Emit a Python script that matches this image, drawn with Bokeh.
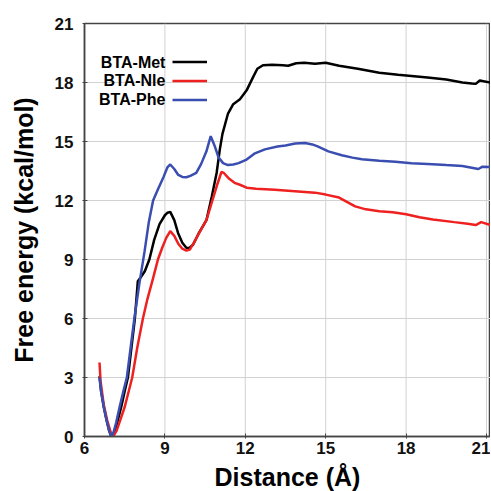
from bokeh.plotting import figure
from bokeh.models import FixedTicker, Label, Legend, LegendItem
from bokeh.core.properties import value
from bokeh.embed import file_html
from bokeh.resources import INLINE

# ---------------- data ----------------
met_x = [6.56, 6.62, 6.72, 6.82, 6.92, 7.0, 7.1, 7.2, 7.37, 7.5, 7.62, 7.75, 7.88, 7.99, 8.1,
         8.25, 8.42, 8.6, 8.8, 9.0, 9.1, 9.2, 9.35, 9.49, 9.65, 9.8, 9.9, 10.05, 10.25, 10.55,
         10.75, 10.93, 11.05, 11.15, 11.35, 11.55, 11.8, 12.05, 12.3, 12.45, 12.66, 13.0, 13.4,
         13.6, 13.9, 14.2, 14.6, 15.0, 15.5, 16.2, 17.0, 17.7, 18.3, 18.8, 19.5, 20.1, 20.45,
         20.6, 20.75, 21.15]
met_y = [3.07, 2.3, 1.5, 0.85, 0.3, 0.0, 0.2, 0.6, 1.5, 2.3, 3.0, 4.5, 6.0, 7.9, 8.1,
         8.4, 9.0, 10.0, 10.8, 11.25, 11.38, 11.42, 11.0, 10.35, 9.85, 9.6, 9.58, 9.75, 10.3, 11.0,
         12.2, 13.4, 14.6, 15.4, 16.4, 16.9, 17.15, 17.6, 18.3, 18.7, 18.88, 18.9, 18.88,
         18.85, 18.98, 19.0, 18.95, 19.0, 18.85, 18.7, 18.5, 18.4, 18.32, 18.25, 18.15, 18.0, 17.95,
         17.93, 18.1, 18.0]

nle_x = [6.56, 6.6, 6.72, 6.85, 6.97, 7.07, 7.2, 7.35, 7.5, 7.65, 7.78, 7.98, 8.18, 8.35, 8.55,
         8.74, 8.9, 9.05, 9.2, 9.35, 9.5, 9.65, 9.8, 9.93, 10.1, 10.3, 10.55, 10.75, 10.95, 11.11,
         11.2, 11.4, 11.6, 11.8, 12.05, 12.4, 13.1, 13.6, 14.1, 14.6, 15.0, 15.5, 16.1, 16.5,
         17.0, 17.5, 18.0, 18.5, 19.0, 19.8, 20.3, 20.6, 20.8, 21.15]
nle_y = [3.76, 2.8, 1.6, 0.8, 0.25, 0.0, 0.3, 0.9, 1.5, 2.3, 3.0, 4.6, 6.0, 7.0, 8.0,
         9.0, 9.6, 10.1, 10.44, 10.2, 9.8, 9.55, 9.45, 9.5, 9.9, 10.4, 11.0, 11.9, 12.8, 13.45,
         13.4, 13.1, 12.9, 12.8, 12.65, 12.6, 12.55, 12.5, 12.45, 12.4, 12.3, 12.15, 11.7, 11.55,
         11.45, 11.4, 11.3, 11.15, 11.03, 10.9, 10.82, 10.75, 10.9, 10.75]

phe_x = [6.56, 6.62, 6.72, 6.82, 6.92, 7.0, 7.08, 7.18, 7.31, 7.45, 7.58, 7.72, 7.86, 8.05, 8.24,
         8.4, 8.56, 8.75, 8.95, 9.1, 9.2, 9.35, 9.5, 9.65, 9.8, 9.95, 10.17, 10.35, 10.55, 10.71,
         10.85, 11.0, 11.17, 11.35, 11.55, 11.75, 12.05, 12.36, 12.73, 13.2, 13.5, 13.86, 14.23,
         14.5, 14.7, 15.1, 15.6, 16.0, 16.35, 17.0, 17.6, 18.2, 18.8, 19.5, 20.1, 20.5, 20.7,
         20.85, 21.15]
phe_y = [3.0, 2.3, 1.5, 0.85, 0.3, 0.0, 0.2, 0.7, 1.5, 2.3, 3.0, 4.5, 6.0, 7.8, 9.4,
         10.9, 12.0, 12.6, 13.2, 13.7, 13.83, 13.6, 13.3, 13.2, 13.18, 13.25, 13.4, 13.85, 14.5, 15.27,
         14.8, 14.2, 13.9, 13.8, 13.83, 13.9, 14.08, 14.4, 14.6, 14.75, 14.8, 14.9, 14.92,
         14.85, 14.75, 14.5, 14.3, 14.18, 14.1, 14.02, 13.97, 13.9, 13.86, 13.8, 13.75, 13.65, 13.6,
         13.72, 13.7]

series_names = ["BTA-Met", "BTA-Nle", "BTA-Phe"]
series_colors = ["#000000", "#ee2020", "#3a4db0"]
x_ticks = [6, 9, 12, 15, 18, 21]
y_ticks = [0, 3, 6, 9, 12, 15, 18, 21]
x_lo, x_hi = 6, 21.15
y_lo, y_hi = 0, 21

FONT = "Liberation Sans"

p = figure(frame_width=406, frame_height=413,
           x_range=(x_lo, x_hi), y_range=(y_lo, y_hi),
           output_backend="svg", toolbar_location=None,
           min_border_left=84, min_border_right=0, min_border_top=23, min_border_bottom=50)

p.outline_line_color = "#444444"
p.outline_line_width = 1.5

for ax in (p.xaxis[0], p.yaxis[0]):
    ax.major_label_text_font = FONT
    ax.major_label_text_font_style = "bold"
    ax.major_label_text_font_size = "17px"
    ax.major_label_text_color = "#111111"
    ax.axis_label_text_font = FONT
    ax.axis_label_text_font_style = "bold"
    ax.axis_label_text_font_size = "25px"
    ax.axis_label_text_color = "#000000"
    ax.axis_line_color = "#444444"
    ax.axis_line_width = 1.5
    ax.major_tick_line_color = "#444444"
    ax.major_tick_in = 3
    ax.major_tick_out = 2
    ax.minor_tick_line_color = None

p.xaxis.ticker = FixedTicker(ticks=x_ticks)
p.yaxis.ticker = FixedTicker(ticks=y_ticks)
p.xaxis.axis_label = "Distance (Å)"
p.yaxis.axis_label = "Free energy (kcal/mol)"
p.xaxis.major_label_standoff = 3
p.xaxis.axis_label_standoff = 6
p.yaxis.major_label_standoff = 9
p.yaxis.axis_label_standoff = 14

# light grid drawn as glyphs from the tick lists
p.grid.visible = False
p.multi_line(xs=[[t, t] for t in x_ticks[1:]], ys=[[y_lo, y_hi] for _ in x_ticks[1:]],
             line_color="#d2d2d2", line_width=1)
p.multi_line(xs=[[x_lo, x_hi] for _ in y_ticks[1:-1]], ys=[[t, t] for t in y_ticks[1:-1]],
             line_color="#d2d2d2", line_width=1)

renderers = []
for xs, ys, c in zip([met_x, nle_x, phe_x], [met_y, nle_y, phe_y], series_colors):
    r = p.line(xs, ys, line_color=c, line_width=2.5)
    renderers.append(r)

legend = Legend(items=[LegendItem(label=value(""), renderers=[r]) for r in renderers],
                location=(88, 327), glyph_width=35, glyph_height=19, label_height=19,
                spacing=0, padding=0, margin=0, border_line_color=None,
                background_fill_alpha=0, label_width=0, label_standoff=0)
p.add_layout(legend, "center")

label_y = [19.02, 18.08, 17.14]
for name, ly in zip(series_names, label_y):
    p.add_layout(Label(x=9.02, y=ly, text=name, text_align="right", text_baseline="middle",
                       text_font=FONT, text_font_style="bold", text_font_size="16px",
                       text_color="#000000"))

open("out.html", "w").write(file_html(p, INLINE))
